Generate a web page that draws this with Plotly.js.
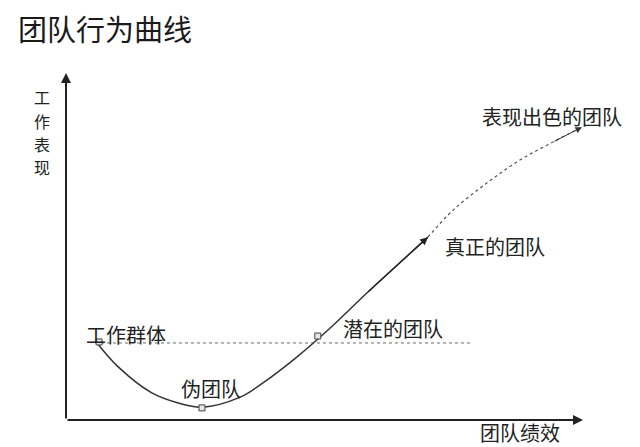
<!DOCTYPE html>
<html>
<head>
<meta charset="utf-8">
<script src="https://cdn.plot.ly/plotly-3.0.1.min.js"></script>
<style>
  body { margin: 0; background: #fff; }
  #chart { width: 640px; height: 447px; }
</style>
</head>
<body>
<div id="chart"></div>
<script>
// curve (x: 团队绩效, y: 工作表现, both 0-10)
const curveX = [0.60, 1.01, 1.66, 2.17, 2.63, 3.37, 3.81, 4.47, 5.11, 5.82, 7.00];
const curveY = [2.22, 1.53, 0.78, 0.49, 0.37, 0.66, 1.07, 1.82, 2.65, 3.66, 5.27];
// dotted continuation up to 表现出色的团队
const trendX = [7.00, 7.49, 8.14, 8.78, 9.42, 9.98];
const trendY = [5.27, 6.05, 6.83, 7.49, 8.01, 8.44];
// small square handles on the curve
const handleX = [0.64, 2.63, 4.87];
const handleY = [2.25, 0.35, 2.42];
// 工作群体 level line
const baseX = [0.56, 7.87];
const baseY = [2.22, 2.22];
// stage labels
const stageNames = ['工作群体', '伪团队', '潜在的团队', '真正的团队', '表现出色的团队'];
const stageX = [1.16, 2.80, 6.33, 8.30, 9.40];
const stageY = [2.45, 0.92, 2.65, 4.99, 8.76];
// axis titles
const yTitle = ['工', '作', '表', '现'];
const xTitle = '团队绩效';

const font = '"Noto Sans CJK SC", "Noto Sans", sans-serif';
const ink = '#222';

const traces = [
  {
    x: baseX, y: baseY, mode: 'lines', hoverinfo: 'none',
    line: { color: '#666', width: 1, dash: 'dot' }
  },
  {
    x: curveX, y: curveY, mode: 'lines', hoverinfo: 'none',
    line: { color: '#333', width: 1.5, shape: 'spline' }
  },
  {
    x: trendX, y: trendY, mode: 'lines', hoverinfo: 'none',
    line: { color: '#555', width: 1.2, dash: 'dot', shape: 'spline' }
  },
  {
    x: handleX, y: handleY, mode: 'markers', hoverinfo: 'none',
    marker: { symbol: 'square', size: 6, color: '#e6e6e6', line: { color: '#444', width: 1 } }
  }
];

const annotations = stageNames.map((name, i) => ({
  x: stageX[i], y: stageY[i], xref: 'x', yref: 'y',
  xanchor: 'center', yanchor: 'middle',
  text: name, showarrow: false,
  font: { family: font, size: 20, color: ink }
}));

// axis arrows
annotations.push({
  x: 0, y: 10, ax: 0, ay: 0, xref: 'x', yref: 'y', axref: 'x', ayref: 'y',
  text: '', showarrow: true, arrowhead: 2, arrowsize: 1, arrowwidth: 2, arrowcolor: ink
});
annotations.push({
  x: 10, y: 0, ax: 0, ay: 0, xref: 'x', yref: 'y', axref: 'x', ayref: 'y',
  text: '', showarrow: true, arrowhead: 2, arrowsize: 1, arrowwidth: 2, arrowcolor: ink
});
// arrowheads on the curve
const n = curveX.length;
annotations.push({
  x: curveX[n - 1], y: curveY[n - 1],
  ax: curveX[n - 2], ay: curveY[n - 2],
  xref: 'x', yref: 'y', axref: 'x', ayref: 'y',
  text: '', showarrow: true, arrowhead: 2, arrowsize: 1.3, arrowwidth: 1.2, arrowcolor: '#222'
});
const m = trendX.length;
annotations.push({
  x: trendX[m - 1], y: trendY[m - 1],
  ax: trendX[m - 2], ay: trendY[m - 2],
  xref: 'x', yref: 'y', axref: 'x', ayref: 'y',
  text: '', showarrow: true, arrowhead: 2, arrowsize: 1.3, arrowwidth: 1, arrowcolor: '#333'
});
// y title, one character per line
yTitle.forEach((ch, i) => {
  annotations.push({
    x: -0.0464, y: 0.9308 - i * 0.0677, xref: 'paper', yref: 'paper',
    xanchor: 'center', yanchor: 'middle',
    text: ch, showarrow: false,
    font: { family: font, size: 16, color: ink }
  });
});
annotations.push({
  x: 8.78, y: -0.037, xref: 'x', yref: 'paper',
  xanchor: 'center', yanchor: 'middle',
  text: xTitle, showarrow: false,
  font: { family: font, size: 20, color: ink }
});

const layout = {
  width: 640, height: 447,
  margin: { l: 66, r: 57, t: 73, b: 27 },
  paper_bgcolor: '#fff', plot_bgcolor: '#fff',
  showlegend: false,
  title: {
    text: '团队行为曲线',
    x: 18 / 640, xanchor: 'left', xref: 'container',
    y: 1 - 31 / 447, yanchor: 'middle', yref: 'container',
    font: { family: font, size: 29, color: '#1a1a1a' }
  },
  xaxis: { range: [0, 10], visible: false, fixedrange: true },
  yaxis: { range: [0, 10], visible: false, fixedrange: true },
  annotations: annotations
};

Plotly.newPlot('chart', traces, layout, { displayModeBar: false, staticPlot: true });
</script>
</body>
</html>
